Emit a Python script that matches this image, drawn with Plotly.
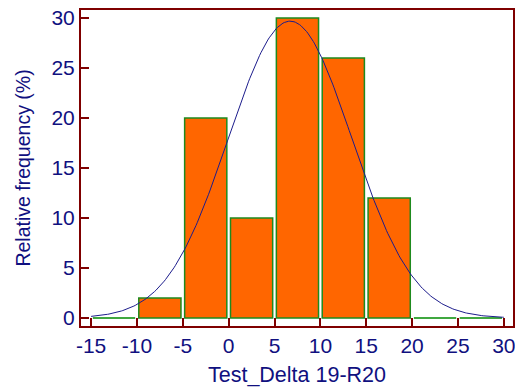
import numpy as np
import plotly.graph_objects as go

# Histogram data
bin_left_edges = [-15, -10, -5, 0, 5, 10, 15, 20, 25]
bin_width = 5
rel_freq = [0, 2, 20, 10, 30, 26, 12, 0, 0]  # %

# Fitted normal curve parameters
curve_mean = 6.7
curve_sd = 6.72

x_tick_vals = [-15, -10, -5, 0, 5, 10, 15, 20, 25, 30]
x_tick_text = ["-15", "-10", "-5", "0", "5", "10", "15", "20", "25", "30"]
y_tick_vals = [0, 5, 10, 15, 20, 25, 30]
y_tick_text = ["0", "5", "10", "15", "20", "25", "30"]

NAVY = "#10107f"
AXIS = "#7f0000"
FILL = "#ff6600"
EDGE = "#1e8a1e"
FONT = "Liberation Sans, Arial, sans-serif"

bar_w = 4.6
mids = [e + bin_width / 2 for e in bin_left_edges]

fig = go.Figure()
fig.add_trace(go.Bar(
    x=mids, y=rel_freq, width=bar_w,
    marker=dict(color=FILL, line=dict(color=EDGE, width=1.5)),
    showlegend=False, hoverinfo="x+y",
))

# empty bins drawn as green baseline segments
for m, v in zip(mids, rel_freq):
    if v == 0:
        fig.add_trace(go.Scatter(
            x=[m - bar_w / 2, m + bar_w / 2], y=[0, 0], mode="lines",
            line=dict(color="#3aa83a", width=1.5), showlegend=False, hoverinfo="skip",
        ))

xs = np.linspace(bin_left_edges[0], bin_left_edges[-1] + bin_width, 300)
ys = 100 * bin_width / (curve_sd * np.sqrt(2 * np.pi)) * np.exp(-0.5 * ((xs - curve_mean) / curve_sd) ** 2)
fig.add_trace(go.Scatter(
    x=xs, y=ys, mode="lines", line=dict(color="#1c1c8c", width=1),
    showlegend=False, hoverinfo="skip",
))

fig.update_layout(
    width=515, height=387,
    margin=dict(l=81, r=2, t=10, b=61),
    paper_bgcolor="white", plot_bgcolor="white",
    font=dict(family=FONT, size=21, color=NAVY),
    xaxis=dict(
        range=[-16.1, 31.0], tickvals=x_tick_vals, ticktext=x_tick_text,
        ticks="inside", ticklen=8, tickwidth=2, tickcolor=AXIS,
        showline=True, linecolor=AXIS, linewidth=2, mirror=True,
        showgrid=False, zeroline=False, automargin=False,
        ticklabeloverflow="allow",
        tickfont=dict(size=21, color=NAVY, family=FONT),
        title=dict(text="Test_Delta 19-R20", font=dict(size=21.5, color=NAVY, family=FONT), standoff=13),
    ),
    yaxis=dict(
        range=[-0.8, 30.8], tickvals=y_tick_vals, ticktext=y_tick_text,
        ticks="inside", ticklen=8, tickwidth=2, tickcolor=AXIS,
        showline=True, linecolor=AXIS, linewidth=2, mirror=True,
        showgrid=False, zeroline=False, automargin=False,
        tickfont=dict(size=21, color=NAVY, family=FONT),
        title=dict(text="Relative frequency (%)", font=dict(size=19.5, color=NAVY, family=FONT), standoff=16),
    ),
)

fig.write_html(
    "out.html",
    config={"displayModeBar": False},
    post_script="document.body.style.margin='0';document.body.style.overflow='hidden';",
)
